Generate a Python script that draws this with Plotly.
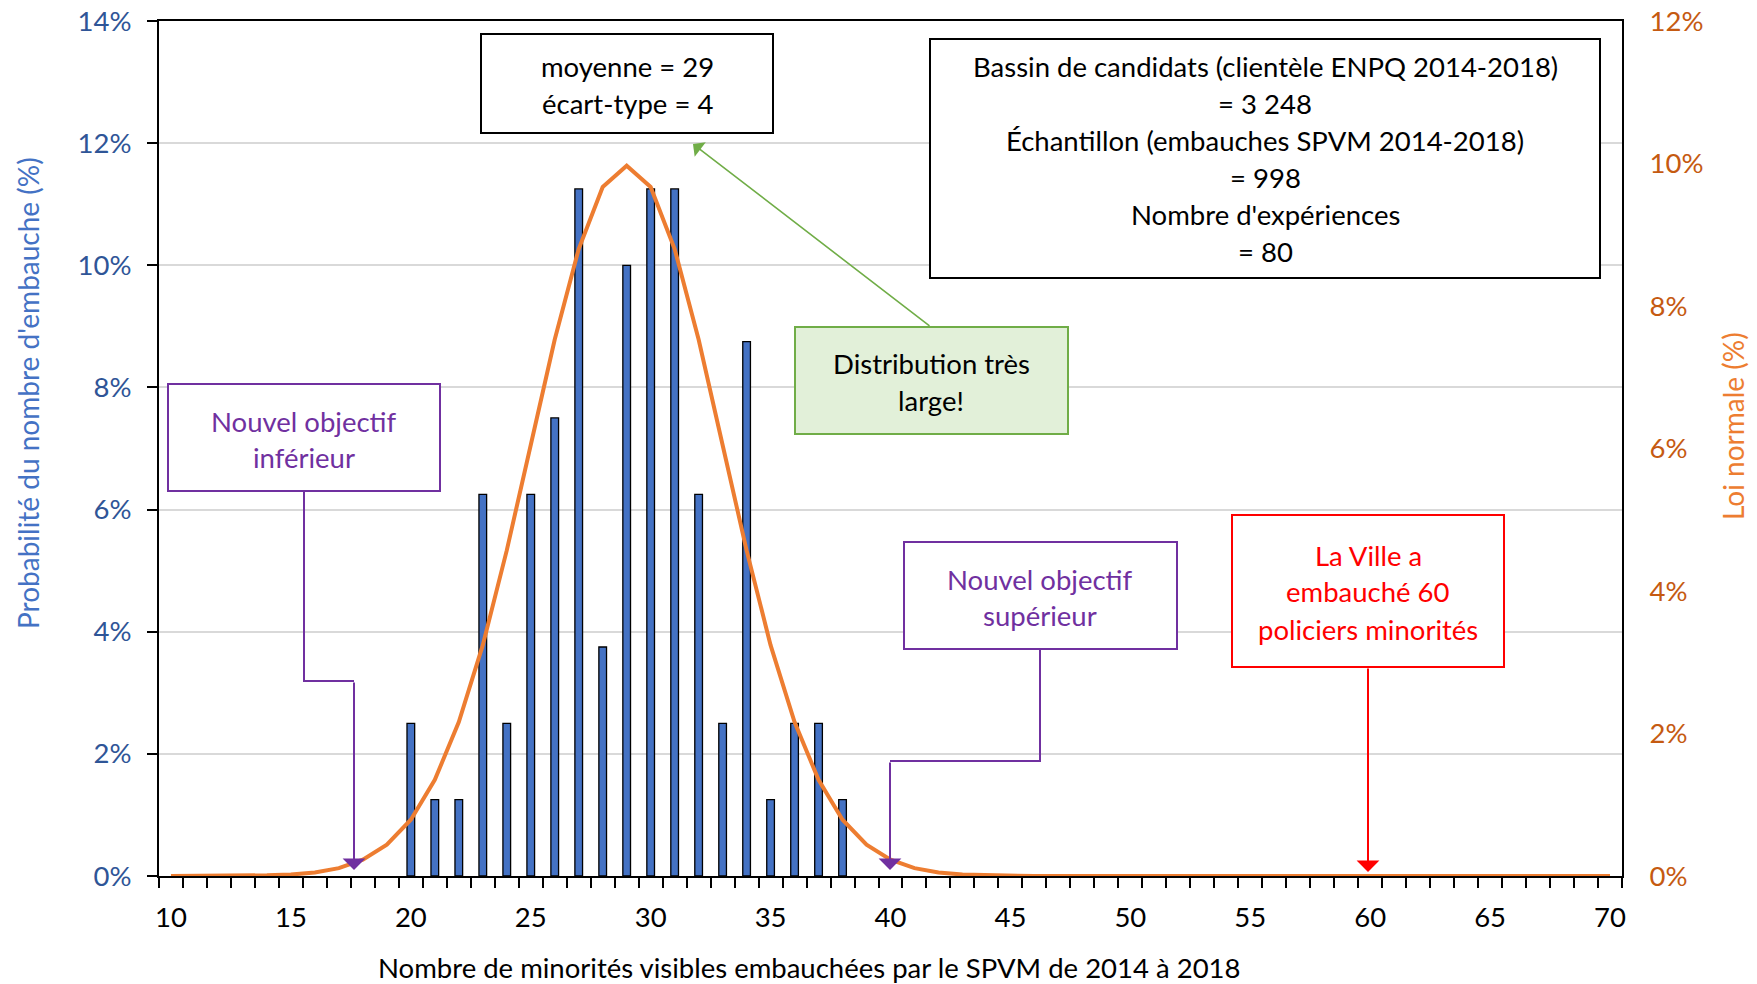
import plotly.graph_objects as go

# --- data ---
hires = list(range(20, 39))
prob_pct = [2.5, 1.25, 1.25, 6.25, 2.5, 6.25, 7.5, 11.25, 3.75, 10.0,
            11.25, 11.25, 6.25, 2.5, 8.75, 1.25, 2.5, 2.5, 1.25]

curve_x = list(range(10, 71))
normal_pct = [0.0, 0.0, 0.0, 0.0, 0.01, 0.02, 0.05, 0.11, 0.23, 0.44,
              0.79, 1.35, 2.16, 3.24, 4.57, 6.05, 7.53, 8.80, 9.67, 9.97,
              9.67, 8.80, 7.53, 6.05, 4.57, 3.24, 2.16, 1.35, 0.79, 0.44,
              0.23, 0.11, 0.05, 0.02, 0.01, 0.0, 0.0, 0.0, 0.0, 0.0,
              0.0, 0.0, 0.0, 0.0, 0.0, 0.0, 0.0, 0.0, 0.0, 0.0,
              0.0, 0.0, 0.0, 0.0, 0.0, 0.0, 0.0, 0.0, 0.0, 0.0, 0.0]

x_ticks = list(range(10, 71, 5))
left_ticks = [0, 2, 4, 6, 8, 10, 12, 14]
right_ticks = [0, 2, 4, 6, 8, 10, 12]

stats_lines = ["moyenne = 29", "écart-type = 4"]
pool_lines = ["Bassin de candidats (clientèle ENPQ 2014-2018)", "= 3 248",
              "Échantillon (embauches SPVM 2014-2018)", "= 998",
              "Nombre d'expériences", "= 80"]

FONT = "Lato"
FS = 27.5
W, H = 1757, 984
L, R, T, B = 159, 135, 21, 108
PW, PH = W - L - R, H - T - B


def px(x):
    return (x - L) / PW


def py(y):
    return (H - B - y) / PH


fig = go.Figure()
fig.add_trace(go.Bar(x=hires, y=prob_pct, width=0.32,
                     marker=dict(color="#4472C4", line=dict(color="black", width=1.3)),
                     name="Probabilité"))
fig.add_trace(go.Scatter(x=curve_x, y=normal_pct, mode="lines", yaxis="y2",
                         line=dict(color="#ED7D31", width=4), name="Loi normale"))

shapes = []
annotations = []


def box(x0, y0, x1, y1, line, fill="white", w=2):
    shapes.append(dict(type="rect", xref="paper", yref="paper",
                       x0=px(x0), x1=px(x1), y0=py(y1), y1=py(y0),
                       line=dict(color=line, width=w), fillcolor=fill, layer="above"))


def lines_text(xc, ys, texts, color, size=FS):
    for y, t in zip(ys, texts):
        annotations.append(dict(xref="paper", yref="paper", x=px(xc), y=py(y), text=t,
                                showarrow=False, xanchor="center", yanchor="middle",
                                font=dict(family=FONT, size=size, color=color)))


def arrow(x0, y0, x1, y1, color, w=2, head=1, size=1.3):
    annotations.append(dict(xref="paper", yref="paper", x=px(x1), y=py(y1),
                            ax=x0 - x1, ay=y0 - y1, text="", showarrow=True,
                            arrowhead=head, arrowsize=size, arrowwidth=w,
                            arrowcolor=color, standoff=0))


def elbow(points, color, w=2):
    path = "M " + " L ".join(f"{px(x)},{py(y)}" for x, y in points)
    shapes.append(dict(type="path", xref="paper", yref="paper", path=path,
                       line=dict(color=color, width=w), layer="above"))


# stats box
box(481, 34, 773, 133, "black")
lines_text(627, [66, 103], stats_lines, "black")

# pool box
box(930, 39, 1600, 278, "black")
lines_text(1265, [66, 103, 140, 177, 214, 251], pool_lines, "black")

# green comment
arrow(931, 327, 693, 144, "#70AD47", w=1.6, head=1, size=1.9)
box(795, 327, 1068, 434, "#70AD47", fill="#E2F0D9")
lines_text(931, [363, 400], ["Distribution très", "large!"], "black")

# lower target
purple = "#7030A0"
elbow([(304, 491), (304, 681), (354, 681)], purple)
arrow(354, 681, 354, 870, purple, w=2, head=1, size=1.9)
box(168, 384, 440, 491, purple)
lines_text(304, [421, 457], ["Nouvel objectif", "inférieur"], purple)

# upper target
elbow([(1040, 649), (1040, 761), (890, 761)], purple)
arrow(890, 761, 890, 870, purple, w=2, head=1, size=1.9)
box(904, 542, 1177, 649, purple)
lines_text(1040, [579, 615], ["Nouvel objectif", "supérieur"], purple)

# city hires
arrow(1368, 667, 1368, 872, "#FF0000", w=2, head=1, size=1.9)
box(1232, 515, 1504, 667, "#FF0000")
lines_text(1368, [555, 592, 629], ["La Ville a", "embauché 60", "policiers minorités"], "#FF0000")

# axis titles
annotations.append(dict(xref="paper", yref="paper", x=px(809), y=py(967),
                        text="Nombre de minorités visibles embauchées par le SPVM de 2014 à 2018",
                        showarrow=False, xanchor="center", yanchor="middle",
                        font=dict(family=FONT, size=FS, color="black")))
annotations.append(dict(xref="paper", yref="paper", x=px(28), y=py(393),
                        text="Probabilité du nombre d'embauche (%)", textangle=-90,
                        showarrow=False, xanchor="center", yanchor="middle",
                        font=dict(family=FONT, size=28, color="#4472C4")))
annotations.append(dict(xref="paper", yref="paper", x=px(1733), y=py(426),
                        text="Loi normale (%)", textangle=-90,
                        showarrow=False, xanchor="center", yanchor="middle",
                        font=dict(family=FONT, size=28, color="#ED7D31")))

fig.update_layout(
    width=W, height=H,
    margin=dict(l=L, r=R, t=T, b=B, autoexpand=False),
    plot_bgcolor="white", paper_bgcolor="white",
    showlegend=False,
    font=dict(family=FONT, size=FS),
    xaxis=dict(range=[9.5, 70.5], tickvals=x_ticks, ticktext=[str(v) for v in x_ticks],
               ticks="outside", ticklen=10, tickcolor="rgba(0,0,0,0)", ticklabelstandoff=6,
               minor=dict(tick0=9.5, dtick=1, ticks="outside", ticklen=10,
                          tickcolor="black", tickwidth=1.5),
               showline=True, linecolor="black", linewidth=2, mirror=True, automargin=False,
               showgrid=False, zeroline=False, tickfont=dict(color="black", size=FS)),
    yaxis=dict(range=[0, 14], tickvals=left_ticks, ticktext=[f"{v}%" for v in left_ticks],
               ticks="outside", ticklen=10, tickcolor="black", tickwidth=1.5,
               ticklabelstandoff=10, automargin=False,
               showline=True, linecolor="black", linewidth=2,
               showgrid=True, gridcolor="#D9D9D9", gridwidth=1.5, zeroline=False,
               tickfont=dict(color="#2F5597", size=FS)),
    yaxis2=dict(range=[0, 12], tickvals=right_ticks, ticktext=[f"{v}%" for v in right_ticks],
                overlaying="y", side="right", ticks="outside", ticklen=10,
                tickcolor="rgba(0,0,0,0)", ticklabelstandoff=10, automargin=False,
                showline=True, linecolor="black", linewidth=2,
                showgrid=False, zeroline=False, tickfont=dict(color="#C55A11", size=FS)),
    shapes=shapes,
    annotations=annotations,
)

fig.write_html("out.html", config={"displayModeBar": False},
               post_script="document.body.style.margin='0';")
